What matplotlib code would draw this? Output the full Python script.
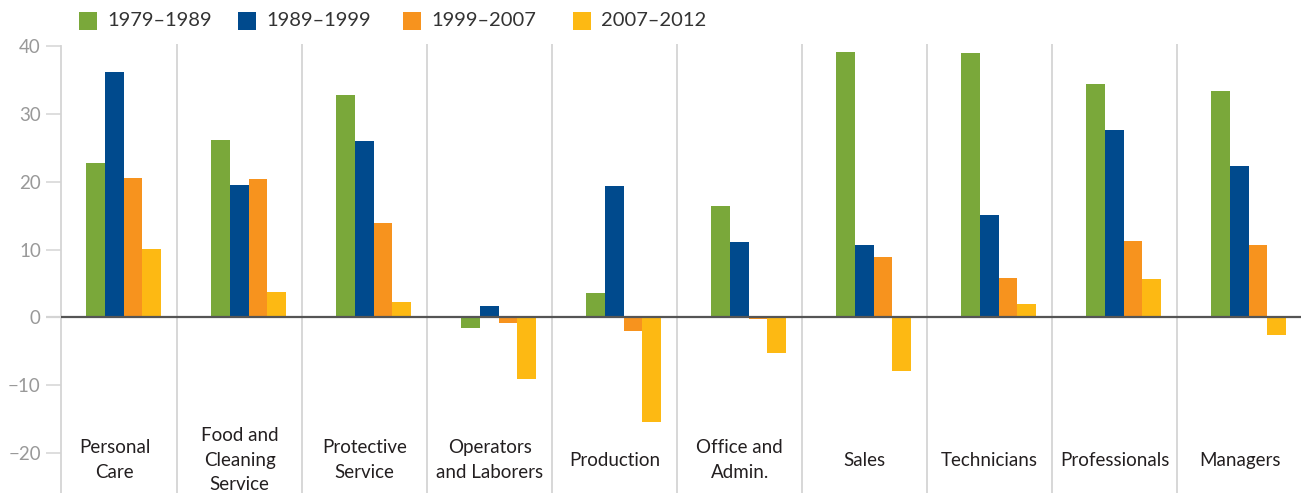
import matplotlib
matplotlib.use("Agg")
import matplotlib.pyplot as plt
from matplotlib.patches import Rectangle
import numpy as np

categories = ["Personal\nCare", "Food and\nCleaning\nService", "Protective\nService",
              "Operators\nand Laborers", "Production", "Office and\nAdmin.", "Sales",
              "Technicians", "Professionals", "Managers"]
series_names = ["1979–1989", "1989–1999", "1999–2007", "2007–2012"]
v_1979_1989 = [22.8, 26.2, 32.8, -1.6, 3.6, 16.5, 39.2, 39.0, 34.4, 33.4]
v_1989_1999 = [36.2, 19.5, 26.0, 1.7, 19.4, 11.1, 10.7, 15.1, 27.6, 22.3]
v_1999_2007 = [20.6, 20.4, 13.9, -0.9, -2.0, -0.3, 8.9, 5.8, 11.3, 10.7]
v_2007_2012 = [10.1, 3.7, 2.3, -9.1, -15.5, -5.3, -7.9, 2.0, 5.7, -2.6]
yticks = [-20, -10, 0, 10, 20, 30, 40]

colors = ["#7AA83A", "#004A8D", "#F7931E", "#FDB913"]
font = ["Lato", "DejaVu Sans"]
plt.rcParams["font.family"] = font

W, H = 1301, 493
fig = plt.figure(figsize=(W / 100, H / 100), dpi=100)
ax = fig.add_axes([61 / W, 0, 1 - 61 / W, (493 - 44) / H])

x = np.arange(len(categories))
bw = 0.15
offset = 0.072
all_series = [v_1979_1989, v_1989_1999, v_1999_2007, v_2007_2012]
for k, (vals, c, name) in enumerate(zip(all_series, colors, series_names)):
    ax.bar(x + offset + (k - 1.5) * bw, vals, width=bw, color=c, label=name,
           zorder=2, linewidth=0)

# separators
for i in range(len(categories)):
    ax.axvline(i + 0.5, color="#d4d4d4", lw=1.3, zorder=1)
ax.axhline(0, color="#555555", lw=1.6, zorder=3)

ax.set_xlim(-0.428, 9.49)
ax.set_ylim(-25.93, 40.34)
ax.set_yticks(yticks)
ax.set_yticklabels([str(t).replace("-", "−") for t in yticks])
ax.set_xticks([])
for s in ["top", "right", "bottom"]:
    ax.spines[s].set_visible(False)
ax.spines["left"].set_color("#d4d4d4")
ax.spines["left"].set_linewidth(1.3)
ax.spines["left"].set_bounds(-25.93, 40)
ax.tick_params(axis="y", length=11, width=1.1, color="#d4d4d4", pad=3.5,
               labelsize=13.5, labelcolor="#999999")
for t, val in zip(ax.yaxis.get_major_ticks(), yticks):
    if val == 0:
        t.tick1line.set_color("#555555")
        t.tick1line.set_markeredgewidth(1.6)

for i, lab in enumerate(categories):
    ax.text(i, -21.1, lab, ha="center", va="center", fontsize=13.5,
            color="#231f20", linespacing=1.55)

# legend (manual placement, figure pixel coordinates)
leg_x = [79, 238, 403, 573]
for lx, c, name in zip(leg_x, colors, series_names):
    fig.patches.append(Rectangle((lx / W, 1 - 30 / H), 18 / W, 18 / H,
                                 transform=fig.transFigure, color=c, lw=0))
    fig.text((lx + 28) / W, 1 - 21 / H, name, ha="left", va="center",
             fontsize=14.5, color="#333333")

fig.savefig("out.png", dpi=100)
